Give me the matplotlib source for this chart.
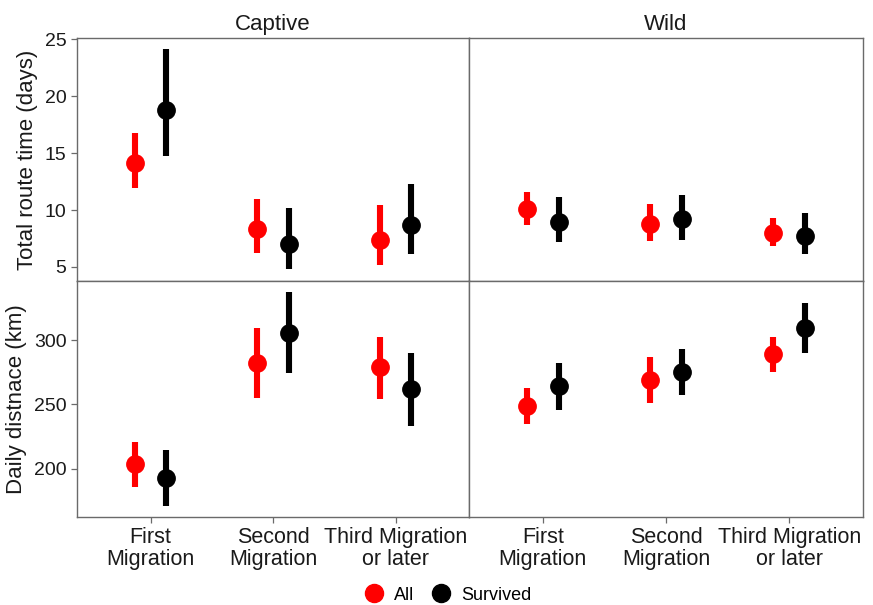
import matplotlib
matplotlib.use("Agg")
import matplotlib.pyplot as plt
from matplotlib.lines import Line2D
import numpy as np

plt.rcParams['font.family'] = ['Liberation Sans', 'DejaVu Sans']

categories = ["First\nMigration", "Second\nMigration", "Third Migration\nor later"]
groups = ["Captive", "Wild"]
series = ["All", "Survived"]
colors = {"All": "#FF0000", "Survived": "#000000"}

# Total route time (days): mean, low, high per category
time_captive_all_c = [14.1, 8.3, 7.4]
time_captive_all_lo = [11.9, 6.2, 5.2]
time_captive_all_hi = [16.8, 11.0, 10.4]
time_captive_surv_c = [18.8, 7.0, 8.7]
time_captive_surv_lo = [14.7, 4.8, 6.1]
time_captive_surv_hi = [24.1, 10.2, 12.3]
time_wild_all_c = [10.05, 8.75, 8.0]
time_wild_all_lo = [8.65, 7.3, 6.8]
time_wild_all_hi = [11.6, 10.5, 9.3]
time_wild_surv_c = [8.95, 9.2, 7.75]
time_wild_surv_lo = [7.2, 7.4, 6.1]
time_wild_surv_hi = [11.1, 11.3, 9.75]

# Daily distance (km)
dist_captive_all_c = [203.6, 282.4, 278.8]
dist_captive_all_lo = [186, 255.3, 254]
dist_captive_all_hi = [220.7, 309.5, 302.6]
dist_captive_surv_c = [193, 305.7, 262]
dist_captive_surv_lo = [170.8, 274.2, 233.6]
dist_captive_surv_hi = [214.7, 337.2, 290.2]
dist_wild_all_c = [248.8, 269.2, 288.9]
dist_wild_all_lo = [235.1, 251.4, 275]
dist_wild_all_hi = [262.5, 286.6, 302.6]
dist_wild_surv_c = [264.3, 275.4, 309]
dist_wild_surv_lo = [246, 257.4, 289.7]
dist_wild_surv_hi = [282, 293, 328.4]

data = {
    ("time", "Captive", "All"): (time_captive_all_c, time_captive_all_lo, time_captive_all_hi),
    ("time", "Captive", "Survived"): (time_captive_surv_c, time_captive_surv_lo, time_captive_surv_hi),
    ("time", "Wild", "All"): (time_wild_all_c, time_wild_all_lo, time_wild_all_hi),
    ("time", "Wild", "Survived"): (time_wild_surv_c, time_wild_surv_lo, time_wild_surv_hi),
    ("dist", "Captive", "All"): (dist_captive_all_c, dist_captive_all_lo, dist_captive_all_hi),
    ("dist", "Captive", "Survived"): (dist_captive_surv_c, dist_captive_surv_lo, dist_captive_surv_hi),
    ("dist", "Wild", "All"): (dist_wild_all_c, dist_wild_all_lo, dist_wild_all_hi),
    ("dist", "Wild", "Survived"): (dist_wild_surv_c, dist_wild_surv_lo, dist_wild_surv_hi),
}

fig = plt.figure(figsize=(8.73, 6.05), dpi=100)
L, M, R = 77/873, 469/873, 863/873
T, MID, B = 1 - 38/605, 1 - 281/605, 1 - 516.5/605

axes = {}
for ri, metric in enumerate(["time", "dist"]):
    for ci, g in enumerate(groups):
        x0 = L if ci == 0 else M
        x1 = M if ci == 0 else R
        y0 = MID if ri == 0 else B
        y1 = T if ri == 0 else MID
        ax = fig.add_axes([x0, y0, x1 - x0, y1 - y0])
        axes[(metric, g)] = ax

offsets = {"All": -0.127, "Survived": 0.127}
xs = np.arange(1, len(categories) + 1)
for (metric, g, s), (c, lo, hi) in data.items():
    ax = axes[(metric, g)]
    c = np.array(c); lo = np.array(lo); hi = np.array(hi)
    ax.vlines(xs + offsets[s], lo, hi, color=colors[s], lw=4.4, zorder=2)
    ax.plot(xs + offsets[s], c, 'o', color=colors[s], ms=12.5, zorder=3)

for (metric, g), ax in axes.items():
    ax.set_xlim(0.4, 3.6)
    if metric == "time":
        ax.set_ylim(3.77, 25.1)
        ax.set_yticks([5, 10, 15, 20, 25])
    else:
        ax.set_ylim(163, 345.8)
        ax.set_yticks([200, 250, 300])
    ax.set_xticks(xs)
    for sp in ax.spines.values():
        sp.set_color("#6a6a6a")
        sp.set_linewidth(1.0)
    ax.tick_params(axis='both', colors="#6a6a6a", length=4, width=0.9,
                   labelcolor="#1a1a1a", labelsize=14)
    if metric == "time":
        ax.set_xticklabels([])
        ax.tick_params(axis='x', length=0)
        ax.set_title(g, fontsize=16, color="#1a1a1a", pad=6)
    else:
        ax.set_xticklabels(categories, fontsize=15.5, linespacing=1.05)
    if g == "Wild":
        ax.set_yticklabels([])
        ax.tick_params(axis='y', length=0)

axes[("time", "Captive")].set_ylabel("Total route time (days)", fontsize=16, color="#1a1a1a", labelpad=5)
axes[("dist", "Captive")].set_ylabel("Daily distnace (km)", fontsize=16, color="#1a1a1a", labelpad=5)

handles = [Line2D([], [], marker='o', color=colors[s], ls='none', ms=13) for s in series]
fig.legend(handles, series, loc='center', bbox_to_anchor=(0.512, 0.0165), ncol=2,
           frameon=False, fontsize=13, handlelength=1.2, handletextpad=0.5,
           columnspacing=0.9)

fig.savefig("out.png", dpi=100)
